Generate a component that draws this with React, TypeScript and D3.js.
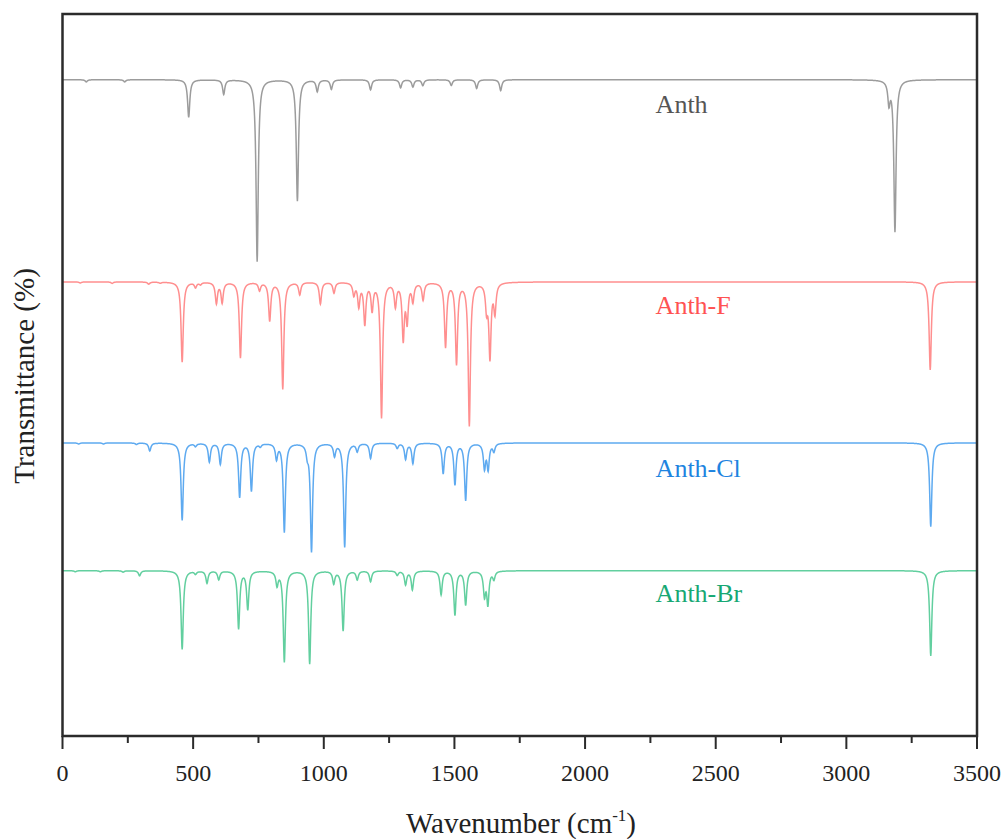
import React from "react";
import * as d3 from "d3";

// ---- data ----
const X_MAJOR_TICKS = [0, 500, 1000, 1500, 2000, 2500, 3000, 3500];
const X_MINOR_TICKS = [250, 750, 1250, 1750, 2250, 2750, 3250];

const seriesNames = ["Anth", "Anth-F", "Anth-Cl", "Anth-Br"];
// baseline transmittance (offset stacked) per series
const baselines = [90.9, 62.9, 40.6, 22.9];

// [wavenumber, depth] pairs for each absorption band
const anthPeaks: [number, number][] = [
  [91, 0.3], [238, 0.3], [483, 5.2], [617, 2.0], [745, 25.2], [899, 16.8],
  [975, 1.6], [1029, 1.3], [1179, 1.4], [1294, 1.1], [1341, 1.0], [1379, 0.8],
  [1488, 0.8], [1585, 1.2], [1677, 1.5], [3163, 3.0], [3186, 21.0],
];
const anthFPeaks: [number, number][] = [
  [68, 0.15], [190, 0.2], [330, 0.3], [374, 0.15], [458, 11.1], [509, 0.7],
  [528, 0.3], [589, 2.9], [611, 2.8], [681, 10.5], [754, 1.1], [793, 5.3],
  [843, 14.8], [908, 1.7], [987, 3.0], [1039, 1.5], [1115, 1.7], [1134, 3.2],
  [1157, 5.7], [1185, 3.7], [1221, 18.7], [1274, 3.2], [1304, 7.7], [1319, 5.2],
  [1341, 2.5], [1380, 2.4], [1466, 8.9], [1508, 11.2], [1557, 19.8], [1623, 3.4],
  [1636, 10.2], [1655, 4.0], [3321, 12.2],
];
const anthClPeaks: [number, number][] = [
  [62, 0.15], [157, 0.15], [283, 0.2], [334, 1.1], [458, 10.7], [509, 0.4],
  [562, 2.6], [604, 2.9], [678, 7.5], [723, 6.6], [757, 0.4], [819, 2.1],
  [849, 12.3], [937, 1.3], [953, 15.0], [1041, 1.7], [1080, 14.4], [1128, 1.1],
  [1179, 2.1], [1281, 0.7], [1313, 2.2], [1341, 2.8], [1457, 4.2], [1502, 5.7],
  [1543, 7.9], [1615, 3.4], [1629, 3.5], [1651, 1.1], [3323, 11.6],
];
const anthBrPeaks: [number, number][] = [
  [49, 0.15], [145, 0.15], [232, 0.2], [295, 0.7], [458, 10.9], [509, 0.4],
  [553, 1.7], [598, 1.2], [674, 8.0], [709, 5.3], [821, 1.9], [849, 12.6],
  [946, 12.9], [1038, 1.7], [1074, 8.3], [1128, 1.2], [1179, 1.5], [1281, 0.6],
  [1313, 1.9], [1339, 2.6], [1449, 3.3], [1502, 6.1], [1543, 4.7], [1615, 3.3],
  [1628, 4.5], [1651, 1.1], [3323, 11.8],
];
const peakLists = [anthPeaks, anthFPeaks, anthClPeaks, anthBrPeaks];

const lineColors = ["#9c9c9c", "#ff8f8f", "#5eaaf0", "#62cf9f"];
const labelColors = ["#555555", "#ff5252", "#1e84e0", "#17a874"];

// ---- layout ----
const W = 1006;
const H = 839;
const left = 62.5;
const right = 977;
const top = 14;
const bottom = 736;
const HWHM = 5;

function spectrum(peaks: [number, number][], base: number) {
  const pts: [number, number][] = [];
  for (let wn = 0; wn <= 3500; wn += 1) {
    let t = base;
    for (const [w0, d] of peaks) {
      const u = (wn - w0) / HWHM;
      t -= d / (1 + u * u);
    }
    pts.push([wn, t]);
  }
  return pts;
}

const FONT = "Liberation Serif, Times New Roman, Times, DejaVu Serif, serif";

export default function App() {
  const x = d3.scaleLinear().domain([0, 3500]).range([left, right]);
  const y = d3.scaleLinear().domain([0, 100]).range([bottom, top]);
  const line = d3
    .line<[number, number]>()
    .x((d) => x(d[0]))
    .y((d) => y(d[1]));
  const labelBaselineOffset = [4.6, 4.5, 4.7, 4.4];
  const textStyle = { fontFamily: FONT };

  return (
    <svg
      width={W}
      height={H}
      style={{ position: "absolute", left: 0, top: 0, background: "#fff", fontFamily: FONT }}
    >
      <rect x={0} y={0} width={W} height={H} fill="#fff" />
      {peakLists.map((p, i) => (
        <path
          key={seriesNames[i]}
          d={line(spectrum(p, baselines[i])) || ""}
          fill="none"
          stroke={lineColors[i]}
          strokeWidth={1.5}
        />
      ))}
      {seriesNames.map((n, i) => (
        <text
          key={n}
          x={x(2270)}
          y={y(baselines[i] - labelBaselineOffset[i])}
          fontSize={26}
          fill={labelColors[i]}
          style={textStyle}
        >
          {n}
        </text>
      ))}
      <rect
        x={left}
        y={top}
        width={right - left}
        height={bottom - top}
        fill="none"
        stroke="#2b2b2b"
        strokeWidth={2.5}
      />
      {X_MAJOR_TICKS.map((t) => (
        <g key={t}>
          <line x1={x(t)} x2={x(t)} y1={bottom} y2={bottom + 13} stroke="#2b2b2b" strokeWidth={2} />
          <text x={x(t)} y={781} fontSize={24} textAnchor="middle" fill="#222" style={textStyle}>
            {t}
          </text>
        </g>
      ))}
      {X_MINOR_TICKS.map((t) => (
        <line key={t} x1={x(t)} x2={x(t)} y1={bottom} y2={bottom + 7} stroke="#2b2b2b" strokeWidth={2} />
      ))}
      <text x={521} y={833} fontSize={29} textAnchor="middle" fill="#222" style={textStyle}>
        Wavenumber (cm
        <tspan dy={-12} fontSize={17}>-1</tspan>
        <tspan dy={12}>)</tspan>
      </text>
      <text
        transform={`translate(34, 376) rotate(-90)`}
        fontSize={29}
        textAnchor="middle"
        fill="#222"
        style={textStyle}
      >
        Transmittance (%)
      </text>
    </svg>
  );
}
